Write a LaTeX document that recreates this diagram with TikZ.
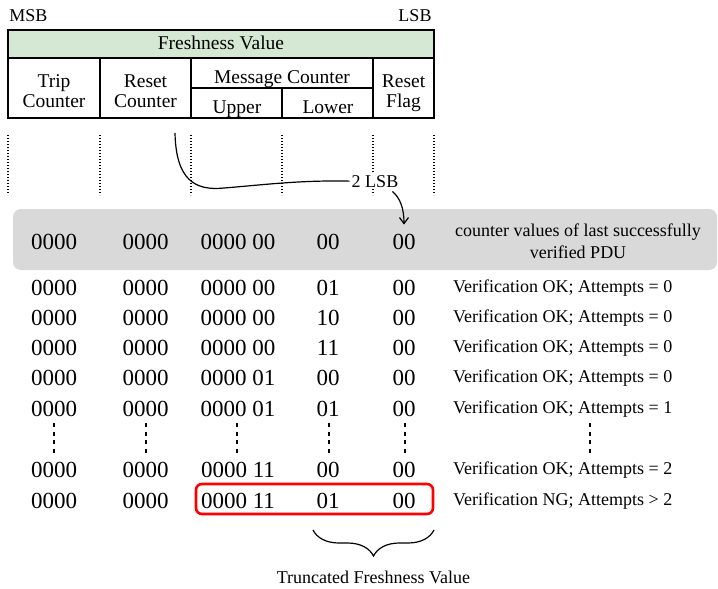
\documentclass[tikz,border=0pt]{standalone}
\usepackage{fontspec}
\setmainfont{Liberation Serif}
\usetikzlibrary{arrows.meta,decorations.pathreplacing}

\definecolor{fvgreen}{HTML}{D5E8D4}
\definecolor{rowgray}{HTML}{D9D9D9}
\definecolor{alertred}{HTML}{FF0000}

\begin{document}
\begin{tikzpicture}[x=1pt,y=-1pt,
  hdr/.style={font=\fontsize{19.5}{20}\selectfont, align=center, inner sep=0pt, anchor=base},
  val/.style={font=\fontsize{23}{26}\selectfont, inner sep=0pt, anchor=base},
  note/.style={font=\fontsize{18}{22.5}\selectfont, inner sep=0pt},
  cell/.style={draw=black, line width=1.2pt},
  guide/.style={line width=1.3pt, dash pattern=on 1.3pt off 1.7pt},
  gapline/.style={line width=1.3pt, dash pattern=on 4pt off 4.5pt},
  link/.style={line width=1.2pt},
  pointer/.style={line width=1.2pt, -{Straight Barb[length=6pt,width=9pt,line width=1.2pt]}}
]
\useasboundingbox (0,0) rectangle (718,589);

% ---- field layout of the freshness value ----
\node[note, anchor=base] (msb) at (28.5,21) {MSB};
\node[note, anchor=base] (lsb) at (415,21) {LSB};

\draw[cell, fill=fvgreen] (8,30) rectangle (434,58);
\draw[cell] (8,58) rectangle (434,118);
\draw[cell] (100,58) -- (100,118);
\draw[cell] (191,58) -- (191,118);
\draw[cell] (373,58) -- (373,118);
\draw[cell] (191,88) -- (373,88);
\draw[cell] (282,88) -- (282,118);

\node[hdr] (fv) at (221,49) {Freshness Value};
\node[hdr] (trip) at (54,87) {Trip};
\node[hdr] (tripc) at (54,107) {Counter};
\node[hdr] (rst) at (145.5,87) {Reset};
\node[hdr] (rstc) at (145.5,107) {Counter};
\node[hdr] (mc) at (282,83) {Message Counter};
\node[hdr] (up) at (237,113) {Upper};
\node[hdr] (lo) at (328,113) {Lower};
\node[hdr] (rf) at (403.5,87) {Reset};
\node[hdr] (rff) at (403.5,107) {Flag};

% ---- dotted guides below the field boundaries ----
\foreach \gx in {8,100,191,282,373,434}
  \draw[guide] (\gx,135) -- (\gx,195);

% ---- the 2 LSB of the message counter ----
\coordinate (bend) at (175,133);
\node[note, anchor=base, fill=white, inner sep=2pt] (twolsb) at (375,187) {2 LSB};
\draw[link] (bend) .. controls (176,180) and (195,191) .. (224,188)
  .. controls (262,185) and (300,180) .. (twolsb.west);

% ---- last verified counter values ----
\fill[rowgray, rounded corners=8pt] (13,209) rectangle (717,270);
\node[val] (g1) at (54,249) {0000};
\node[val] (g2) at (145.5,249) {0000};
\node[val] (g3) at (238,249) {0000 00};
\node[val] (g4) at (328,249) {00};
\node[val] (g5) at (404,249) {00};
\node[note, align=center] (gnote) at (578,241) {counter values of last successfully\\verified PDU};

\draw[pointer, shorten >=9pt] (twolsb.south east) ++(-8,2)
  .. controls (400,198) and (404,208) .. (g5.north);

% ---- received counter values ----
\foreach \i/\yb/\cc/\cd/\ce/\txt in {
  1/295/0000 00/01/00/{Verification OK; Attempts = 0},
  2/325.3/0000 00/10/00/{Verification OK; Attempts = 0},
  3/355.6/0000 00/11/00/{Verification OK; Attempts = 0},
  4/385.9/0000 01/00/00/{Verification OK; Attempts = 0},
  5/416.2/0000 01/01/00/{Verification OK; Attempts = 1},
  6/477/0000 11/00/00/{Verification OK; Attempts = 2},
  7/508/0000 11/01/00/{Verification NG; Attempts > 2}}{
  \node[val] (r\i a) at (54,\yb) {0000};
  \node[val] (r\i b) at (145.5,\yb) {0000};
  \node[val] (r\i c) at (238,\yb) {\cc};
  \node[val] (r\i d) at (328,\yb) {\cd};
  \node[val] (r\i e) at (404,\yb) {\ce};
  \node[note, anchor=base west] (r\i n) at (453,\yb-3) {\txt};
}

% ---- skipped rows ----
\foreach \gx in {54,146,237,329,405,590}
  \draw[gapline] (\gx,423) -- (\gx,453);

% ---- truncated freshness value ----
\draw[alertred, line width=2.6pt, rounded corners=6pt] (196,484) rectangle (433,514);
\draw[link, decorate, decoration={brace, mirror, amplitude=26pt, aspect=0.5}]
  (313,530) -- (434,530);
\node[note, anchor=base] (tfv) at (373.5,583) {Truncated Freshness Value};
\end{tikzpicture}
\end{document}
